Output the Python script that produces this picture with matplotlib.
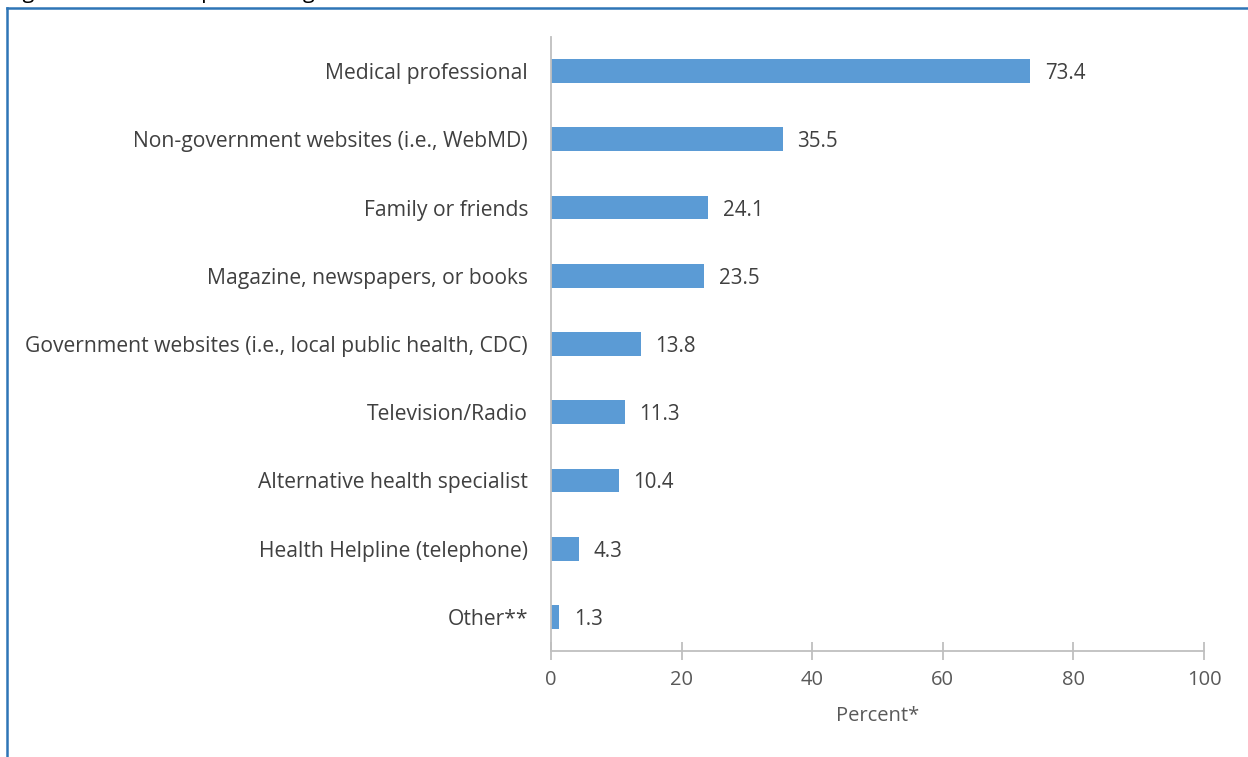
import matplotlib
matplotlib.use("Agg")
import matplotlib.pyplot as plt
from matplotlib.lines import Line2D

categories = [
    "Medical professional",
    "Non-government websites (i.e., WebMD)",
    "Family or friends",
    "Magazine, newspapers, or books",
    "Government websites (i.e., local public health, CDC)",
    "Television/Radio",
    "Alternative health specialist",
    "Health Helpline (telephone)",
    "Other**",
]
percent = [73.4, 35.5, 24.1, 23.5, 13.8, 11.3, 10.4, 4.3, 1.3]
x_ticks = [0, 20, 40, 60, 80, 100]
x_label = "Percent*"
title = "Figure 9. Where respondents get most of their health information"

W, H = 1248, 757
plt.rcParams["font.family"] = ["Open Sans", "DejaVu Sans"]

fig = plt.figure(figsize=(W / 100, H / 100), dpi=100)
ax = fig.add_axes([551 / W, 1 - 651 / H, (1204 - 551) / W, (651 - 37) / H])

bar_color = "#5B9BD5"
text_color = "#404040"
axis_color = "#BFBFBF"

ypos = list(range(len(categories)))
ax.barh(ypos, percent, height=0.35, color=bar_color)
for y, v in zip(ypos, percent):
    ax.text(v + 2.2, y, f"{v:.1f}", va="center_baseline", ha="left",
            fontsize=14.8, color=text_color)

ax.set_ylim(len(categories) - 0.5, -0.5)
ax.set_xlim(0, 100)
ax.set_yticks(ypos)
ax.set_yticklabels(categories, fontsize=15.2, color=text_color,
                   va="center_baseline")
ax.set_xticks(x_ticks)
ax.set_xticklabels([str(t) for t in x_ticks], fontsize=14.5, color="#595959")
ax.tick_params(axis="y", length=0, pad=16.5)
ax.tick_params(axis="x", direction="inout", length=13, width=1.3,
               color=axis_color, pad=7)

for side in ["top", "right"]:
    ax.spines[side].set_visible(False)
ax.spines["left"].set_color(axis_color)
ax.spines["left"].set_linewidth(1.3)
ax.spines["bottom"].set_color(axis_color)
ax.spines["bottom"].set_linewidth(1.3)

ax.set_xlabel(x_label, fontsize=14.5, color="#595959", labelpad=12)

# frame around the figure body
border = "#2E75B6"
fig.add_artist(Line2D([7 / W, 1.0], [1 - 8 / H, 1 - 8 / H],
                      transform=fig.transFigure, color=border, lw=1.8))
fig.add_artist(Line2D([7 / W, 7 / W], [1 - 8 / H, 0.0],
                      transform=fig.transFigure, color=border, lw=1.8))

# caption running off the top edge
fig.text(6 / W, 1 + 2 / H, title, ha="left", va="baseline",
         fontsize=15.5, color="black")

fig.savefig("out.png", dpi=100)
